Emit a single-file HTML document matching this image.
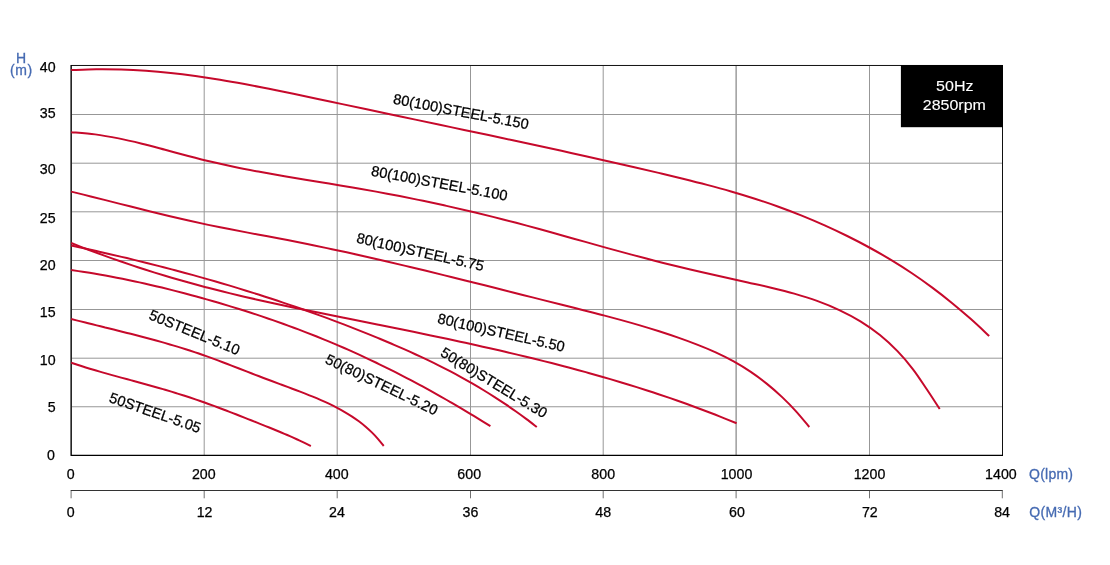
<!DOCTYPE html>
<html lang="en">
<head>
<meta charset="utf-8">
<title>Pump performance curves 50Hz 2850rpm</title>
<style>
html,body{margin:0;padding:0;background:#fff;}
body{width:1110px;height:565px;overflow:hidden;}
svg{display:block;}
svg text{font-family:"Liberation Sans",Arial,Helvetica,sans-serif;font-size:14.2px;stroke-width:0.25px;paint-order:stroke fill;}
.ax{fill:#000;stroke:#000;}
.bl text{fill:#456ab2;stroke:#456ab2;stroke-width:0.3px;font-size:14px;}
.cv{fill:none;stroke:#c6092b;stroke-width:2;stroke-linecap:butt;stroke-linejoin:round;}
.lb text{fill:#000;stroke:#000;}
</style>
</head>
<body>
<svg role="img" aria-label="Pump performance curves" width="1110" height="565" viewBox="0 0 1110 565">
<rect x="0" y="0" width="1110" height="565" fill="#fff"/>
<g fill="none">
<line x1="204.20" y1="66.0" x2="204.20" y2="455.0" stroke="#979797" stroke-width="1"/>
<line x1="337.20" y1="66.0" x2="337.20" y2="455.0" stroke="#979797" stroke-width="1"/>
<line x1="470.50" y1="66.0" x2="470.50" y2="455.0" stroke="#979797" stroke-width="1"/>
<line x1="603.20" y1="66.0" x2="603.20" y2="455.0" stroke="#979797" stroke-width="1"/>
<line x1="736.10" y1="66.0" x2="736.10" y2="455.0" stroke="#6c6c6c" stroke-width="1"/>
<line x1="869.50" y1="66.0" x2="869.50" y2="455.0" stroke="#979797" stroke-width="1"/>
<line x1="72.0" y1="114.50" x2="1002.0" y2="114.50" stroke="#979797" stroke-width="1"/>
<line x1="72.0" y1="163.20" x2="1002.0" y2="163.20" stroke="#979797" stroke-width="1"/>
<line x1="72.0" y1="211.80" x2="1002.0" y2="211.80" stroke="#979797" stroke-width="1"/>
<line x1="72.0" y1="260.50" x2="1002.0" y2="260.50" stroke="#979797" stroke-width="1"/>
<line x1="72.0" y1="309.50" x2="1002.0" y2="309.50" stroke="#979797" stroke-width="1"/>
<line x1="72.0" y1="358.20" x2="1002.0" y2="358.20" stroke="#979797" stroke-width="1"/>
<line x1="72.0" y1="406.75" x2="1002.0" y2="406.75" stroke="#979797" stroke-width="1"/>
</g>
<g fill="none" stroke="#000" stroke-linejoin="round">
<path d="M71 65.48H1002.5V455" stroke-width="1" stroke="#111"/>
<path d="M71.15 65V455.4H1003" stroke-width="1.4"/>
</g>
<g class="cv">
<path d="M71.20 70.10 C75.37 69.95 87.91 69.31 96.23 69.21 C104.56 69.10 112.86 69.22 121.16 69.48 C129.45 69.75 137.72 70.21 145.98 70.80 C154.24 71.40 162.48 72.16 170.72 73.04 C178.95 73.92 187.17 74.96 195.37 76.08 C203.58 77.21 211.78 78.47 219.96 79.79 C228.15 81.12 236.33 82.57 244.50 84.06 C252.67 85.55 260.83 87.13 268.98 88.75 C277.14 90.36 285.28 92.04 293.43 93.74 C301.57 95.43 309.71 97.17 317.85 98.91 C325.98 100.64 334.12 102.39 342.25 104.13 C350.38 105.87 358.51 107.60 366.64 109.32 C374.77 111.05 382.90 112.77 391.03 114.49 C399.15 116.21 407.28 117.92 415.40 119.63 C423.53 121.35 431.65 123.06 439.77 124.77 C447.89 126.49 456.01 128.20 464.13 129.92 C472.25 131.64 480.36 133.36 488.48 135.09 C496.59 136.82 504.71 138.55 512.82 140.29 C520.93 142.03 529.04 143.78 537.15 145.54 C545.26 147.30 553.37 149.06 561.47 150.84 C569.58 152.62 577.68 154.41 585.79 156.21 C593.89 158.02 601.99 159.84 610.09 161.67 C618.19 163.51 626.29 165.35 634.39 167.22 C642.48 169.09 650.58 170.97 658.67 172.89 C666.76 174.81 674.85 176.74 682.91 178.74 C690.98 180.74 699.04 182.76 707.06 184.89 C715.09 187.01 723.10 189.18 731.07 191.49 C739.04 193.80 746.99 196.19 754.89 198.73 C762.79 201.28 770.65 203.94 778.46 206.76 C786.27 209.58 794.03 212.54 801.74 215.64 C809.44 218.75 817.09 222.00 824.67 225.39 C832.26 228.79 839.78 232.33 847.22 236.01 C854.67 239.69 862.05 243.52 869.33 247.50 C876.62 251.48 883.84 255.60 890.94 259.89 C898.04 264.18 905.06 268.62 911.95 273.24 C918.84 277.85 925.62 282.65 932.28 287.59 C938.95 292.54 945.49 297.67 951.92 302.92 C958.35 308.16 964.67 313.58 970.88 319.09 C977.10 324.60 986.15 333.18 989.20 336.00"/>
<path d="M71.20 132.20 C75.18 132.56 87.18 133.34 95.08 134.37 C102.99 135.40 110.82 136.84 118.62 138.39 C126.43 139.95 134.18 141.82 141.92 143.71 C149.66 145.61 157.37 147.72 165.08 149.76 C172.80 151.81 180.49 153.98 188.22 155.99 C195.94 158.00 203.67 160.00 211.43 161.83 C219.19 163.66 226.98 165.36 234.78 166.98 C242.58 168.61 250.41 170.11 258.24 171.57 C266.08 173.03 273.93 174.40 281.78 175.75 C289.64 177.10 297.51 178.39 305.38 179.69 C313.24 180.99 321.12 182.25 328.99 183.54 C336.85 184.84 344.73 186.13 352.58 187.48 C360.44 188.83 368.30 190.20 376.14 191.64 C383.98 193.08 391.82 194.56 399.64 196.10 C407.47 197.63 415.28 199.21 423.08 200.85 C430.89 202.48 438.68 204.16 446.46 205.89 C454.24 207.62 462.01 209.40 469.77 211.24 C477.53 213.07 485.28 214.95 493.01 216.88 C500.74 218.81 508.47 220.80 516.17 222.83 C523.88 224.86 531.58 226.95 539.27 229.05 C546.96 231.15 554.64 233.30 562.32 235.44 C570.00 237.59 577.68 239.76 585.36 241.91 C593.04 244.06 600.71 246.22 608.40 248.35 C616.09 250.47 623.78 252.59 631.49 254.65 C639.19 256.71 646.91 258.75 654.64 260.72 C662.37 262.70 670.11 264.61 677.87 266.49 C685.62 268.37 693.39 270.20 701.16 272.00 C708.93 273.80 716.71 275.55 724.49 277.29 C732.27 279.03 740.06 280.69 747.83 282.42 C755.60 284.16 763.38 285.80 771.12 287.67 C778.85 289.54 786.58 291.42 794.24 293.63 C801.90 295.84 809.56 298.19 817.07 300.92 C824.58 303.66 832.08 306.64 839.31 310.04 C846.54 313.44 853.67 317.15 860.44 321.31 C867.21 325.47 873.76 330.05 879.93 335.01 C886.10 339.98 891.97 345.41 897.48 351.12 C902.99 356.82 908.15 362.95 913.01 369.27 C917.86 375.58 922.16 382.38 926.60 389.00 C931.05 395.62 937.52 405.67 939.70 409.00"/>
<path d="M71.20 191.60 C74.46 192.41 84.24 194.82 90.76 196.45 C97.27 198.08 103.78 199.74 110.29 201.39 C116.80 203.03 123.31 204.70 129.82 206.34 C136.33 207.99 142.84 209.63 149.36 211.24 C155.88 212.86 162.40 214.46 168.93 216.01 C175.46 217.57 182.00 219.10 188.55 220.58 C195.10 222.05 201.66 223.48 208.24 224.86 C214.81 226.24 221.40 227.55 227.99 228.84 C234.59 230.14 241.20 231.38 247.80 232.63 C254.40 233.88 261.02 235.09 267.62 236.34 C274.23 237.59 280.83 238.82 287.43 240.10 C294.02 241.38 300.61 242.68 307.20 244.02 C313.78 245.35 320.35 246.72 326.92 248.11 C333.49 249.49 340.05 250.91 346.61 252.35 C353.16 253.79 359.71 255.25 366.26 256.74 C372.80 258.22 379.34 259.72 385.88 261.24 C392.41 262.77 398.94 264.31 405.47 265.86 C412.00 267.42 418.53 268.99 425.05 270.57 C431.57 272.15 438.09 273.75 444.61 275.36 C451.13 276.96 457.64 278.58 464.16 280.20 C470.67 281.82 477.19 283.45 483.70 285.09 C490.21 286.72 496.73 288.36 503.24 290.00 C509.75 291.64 516.27 293.29 522.78 294.93 C529.30 296.57 535.81 298.21 542.33 299.85 C548.85 301.48 555.37 303.11 561.89 304.75 C568.41 306.38 574.94 308.01 581.46 309.66 C587.97 311.31 594.49 312.97 600.99 314.67 C607.49 316.38 613.99 318.10 620.46 319.89 C626.94 321.67 633.40 323.49 639.85 325.40 C646.29 327.30 652.71 329.25 659.11 331.29 C665.50 333.34 671.88 335.45 678.21 337.68 C684.55 339.90 690.88 342.19 697.13 344.65 C703.38 347.11 709.61 349.66 715.70 352.45 C721.79 355.25 727.81 358.20 733.66 361.44 C739.51 364.68 745.23 368.18 750.78 371.91 C756.33 375.65 761.73 379.66 766.96 383.86 C772.19 388.06 777.25 392.50 782.14 397.12 C787.02 401.73 791.74 406.57 796.27 411.55 C800.80 416.53 807.13 424.43 809.30 427.00"/>
<path d="M71.20 243.00 C73.95 244.07 82.20 247.35 87.72 249.45 C93.25 251.56 98.79 253.62 104.34 255.64 C109.89 257.65 115.46 259.63 121.04 261.55 C126.63 263.48 132.22 265.36 137.83 267.20 C143.44 269.04 149.06 270.84 154.70 272.59 C160.33 274.34 165.98 276.05 171.64 277.71 C177.30 279.38 182.97 281.00 188.65 282.58 C194.33 284.16 200.02 285.70 205.73 287.20 C211.43 288.69 217.14 290.14 222.86 291.56 C228.58 292.98 234.32 294.36 240.05 295.71 C245.79 297.06 251.54 298.38 257.29 299.67 C263.04 300.97 268.80 302.23 274.57 303.48 C280.33 304.73 286.10 305.95 291.88 307.16 C297.65 308.37 303.43 309.56 309.21 310.75 C315.00 311.94 320.78 313.11 326.57 314.28 C332.35 315.45 338.14 316.61 343.93 317.77 C349.72 318.94 355.51 320.10 361.30 321.27 C367.09 322.43 372.88 323.60 378.67 324.77 C384.46 325.94 390.25 327.11 396.04 328.29 C401.83 329.46 407.62 330.65 413.40 331.84 C419.19 333.03 424.97 334.23 430.76 335.44 C436.54 336.65 442.32 337.87 448.09 339.10 C453.87 340.34 459.64 341.58 465.41 342.84 C471.18 344.10 476.94 345.37 482.70 346.66 C488.46 347.95 494.22 349.25 499.97 350.58 C505.72 351.91 511.47 353.25 517.21 354.61 C522.95 355.98 528.68 357.36 534.41 358.77 C540.13 360.18 545.86 361.61 551.57 363.07 C557.28 364.53 562.99 366.01 568.69 367.52 C574.38 369.04 580.08 370.57 585.76 372.14 C591.44 373.71 597.11 375.31 602.78 376.94 C608.44 378.57 614.10 380.23 619.74 381.92 C625.39 383.62 631.02 385.35 636.65 387.11 C642.27 388.88 647.89 390.68 653.49 392.52 C659.09 394.37 664.68 396.24 670.26 398.17 C675.84 400.09 681.41 402.05 686.96 404.05 C692.52 406.05 698.06 408.10 703.59 410.19 C709.12 412.28 714.64 414.42 720.14 416.60 C725.64 418.79 733.86 422.18 736.60 423.30"/>
<path d="M71.20 245.60 C73.30 246.05 79.61 247.39 83.82 248.30 C88.02 249.21 92.22 250.13 96.42 251.07 C100.62 252.01 104.82 252.96 109.01 253.92 C113.20 254.88 117.39 255.86 121.58 256.85 C125.77 257.83 129.96 258.84 134.14 259.85 C138.32 260.86 142.50 261.89 146.68 262.93 C150.85 263.98 155.02 265.03 159.19 266.10 C163.36 267.17 167.53 268.25 171.69 269.35 C175.85 270.45 180.01 271.56 184.16 272.68 C188.32 273.81 192.47 274.95 196.62 276.10 C200.76 277.26 204.90 278.43 209.04 279.61 C213.18 280.80 217.31 281.99 221.44 283.21 C225.57 284.42 229.70 285.65 233.82 286.90 C237.94 288.14 242.05 289.40 246.16 290.68 C250.27 291.95 254.38 293.24 258.48 294.55 C262.58 295.86 266.68 297.18 270.77 298.52 C274.86 299.86 278.94 301.21 283.02 302.58 C287.10 303.95 291.17 305.34 295.24 306.74 C299.31 308.15 303.37 309.57 307.43 311.01 C311.48 312.44 315.53 313.90 319.58 315.37 C323.62 316.84 327.66 318.33 331.69 319.84 C335.72 321.34 339.74 322.87 343.76 324.41 C347.78 325.95 351.79 327.51 355.80 329.08 C359.80 330.66 363.80 332.25 367.79 333.87 C371.78 335.48 375.77 337.11 379.75 338.76 C383.72 340.41 387.69 342.08 391.65 343.77 C395.61 345.46 399.56 347.18 403.49 348.92 C407.43 350.66 411.35 352.42 415.26 354.22 C419.17 356.01 423.07 357.84 426.95 359.69 C430.82 361.55 434.69 363.43 438.53 365.36 C442.38 367.28 446.21 369.23 450.01 371.22 C453.82 373.22 457.61 375.25 461.37 377.32 C465.13 379.39 468.88 381.50 472.60 383.66 C476.31 385.81 480.01 388.01 483.68 390.25 C487.35 392.48 491.00 394.77 494.62 397.09 C498.24 399.41 501.83 401.78 505.40 404.19 C508.97 406.60 512.51 409.05 516.03 411.54 C519.55 414.03 523.04 416.57 526.50 419.15 C529.96 421.72 535.08 425.69 536.80 427.00"/>
<path d="M71.20 270.10 C73.11 270.37 78.83 271.17 82.63 271.74 C86.44 272.32 90.24 272.93 94.04 273.56 C97.84 274.19 101.63 274.85 105.42 275.54 C109.20 276.23 112.99 276.94 116.76 277.67 C120.54 278.41 124.32 279.17 128.09 279.96 C131.86 280.74 135.62 281.55 139.38 282.37 C143.14 283.20 146.90 284.05 150.65 284.92 C154.40 285.79 158.15 286.68 161.89 287.59 C165.64 288.50 169.38 289.43 173.11 290.37 C176.85 291.32 180.58 292.28 184.30 293.26 C188.03 294.25 191.75 295.25 195.47 296.26 C199.19 297.28 202.90 298.31 206.61 299.36 C210.32 300.41 214.02 301.48 217.72 302.56 C221.42 303.64 225.12 304.74 228.80 305.86 C232.49 306.98 236.18 308.11 239.85 309.27 C243.53 310.42 247.20 311.59 250.87 312.78 C254.53 313.97 258.19 315.17 261.84 316.40 C265.50 317.63 269.14 318.87 272.78 320.14 C276.42 321.40 280.05 322.69 283.68 323.99 C287.30 325.29 290.92 326.62 294.52 327.96 C298.13 329.31 301.73 330.67 305.33 332.06 C308.92 333.44 312.50 334.85 316.08 336.27 C319.65 337.70 323.22 339.15 326.78 340.62 C330.33 342.09 333.88 343.58 337.42 345.09 C340.96 346.61 344.49 348.14 348.01 349.70 C351.53 351.26 355.04 352.84 358.54 354.44 C362.04 356.04 365.53 357.66 369.01 359.30 C372.50 360.94 375.97 362.60 379.43 364.29 C382.90 365.97 386.35 367.67 389.79 369.39 C393.24 371.11 396.67 372.85 400.10 374.61 C403.53 376.37 406.94 378.15 410.35 379.94 C413.76 381.74 417.16 383.55 420.55 385.38 C423.94 387.21 427.32 389.06 430.69 390.92 C434.06 392.79 437.42 394.67 440.77 396.57 C444.13 398.47 447.47 400.38 450.81 402.31 C454.14 404.25 457.47 406.19 460.79 408.15 C464.10 410.11 467.41 412.09 470.71 414.08 C474.01 416.07 477.30 418.08 480.58 420.10 C483.86 422.12 488.76 425.18 490.40 426.20"/>
<path d="M71.20 319.00 C72.61 319.36 76.85 320.44 79.68 321.15 C82.51 321.87 85.34 322.57 88.17 323.28 C91.01 323.98 93.84 324.68 96.68 325.38 C99.51 326.08 102.35 326.78 105.18 327.47 C108.02 328.17 110.86 328.87 113.69 329.57 C116.53 330.27 119.36 330.98 122.20 331.69 C125.03 332.40 127.87 333.11 130.70 333.83 C133.53 334.55 136.36 335.27 139.19 336.01 C142.02 336.74 144.84 337.48 147.67 338.24 C150.49 338.99 153.31 339.75 156.13 340.53 C158.94 341.30 161.76 342.09 164.57 342.89 C167.38 343.70 170.18 344.51 172.98 345.34 C175.78 346.18 178.57 347.02 181.36 347.89 C184.15 348.76 186.93 349.64 189.71 350.54 C192.48 351.44 195.25 352.36 198.01 353.30 C200.77 354.24 203.53 355.21 206.28 356.18 C209.02 357.16 211.76 358.15 214.50 359.16 C217.24 360.16 219.97 361.18 222.70 362.21 C225.42 363.24 228.15 364.28 230.87 365.32 C233.59 366.37 236.31 367.42 239.03 368.48 C241.75 369.53 244.47 370.59 247.19 371.65 C249.91 372.70 252.63 373.76 255.35 374.81 C258.07 375.87 260.79 376.92 263.52 377.96 C266.25 379.00 268.98 380.04 271.71 381.06 C274.45 382.09 277.19 383.11 279.93 384.13 C282.67 385.15 285.41 386.16 288.16 387.18 C290.90 388.21 293.65 389.23 296.39 390.26 C299.13 391.30 301.88 392.34 304.61 393.40 C307.34 394.47 310.07 395.54 312.79 396.65 C315.50 397.76 318.21 398.89 320.89 400.06 C323.57 401.23 326.23 402.43 328.87 403.68 C331.50 404.93 334.12 406.22 336.69 407.57 C339.27 408.92 341.82 410.31 344.32 411.77 C346.83 413.23 349.30 414.74 351.72 416.33 C354.14 417.92 356.52 419.58 358.84 421.31 C361.17 423.05 363.44 424.85 365.65 426.74 C367.86 428.63 370.01 430.59 372.09 432.65 C374.17 434.70 376.19 436.83 378.12 439.06 C380.06 441.28 382.77 444.84 383.70 446.00"/>
<path d="M71.20 362.70 C72.23 363.05 75.31 364.10 77.38 364.78 C79.44 365.46 81.51 366.13 83.58 366.78 C85.65 367.44 87.73 368.08 89.80 368.71 C91.88 369.34 93.96 369.96 96.05 370.57 C98.13 371.19 100.22 371.79 102.31 372.38 C104.40 372.98 106.49 373.57 108.58 374.15 C110.68 374.74 112.77 375.31 114.87 375.89 C116.96 376.46 119.06 377.03 121.16 377.60 C123.26 378.17 125.36 378.74 127.45 379.30 C129.55 379.87 131.65 380.43 133.75 381.00 C135.85 381.57 137.95 382.13 140.04 382.71 C142.14 383.28 144.24 383.85 146.33 384.43 C148.43 385.00 150.52 385.59 152.61 386.17 C154.70 386.76 156.79 387.36 158.88 387.96 C160.96 388.56 163.05 389.17 165.13 389.79 C167.21 390.40 169.29 391.03 171.37 391.66 C173.45 392.29 175.52 392.93 177.59 393.58 C179.66 394.23 181.73 394.89 183.80 395.55 C185.87 396.22 187.93 396.89 189.99 397.57 C192.05 398.26 194.11 398.95 196.16 399.64 C198.22 400.34 200.27 401.05 202.32 401.77 C204.37 402.49 206.41 403.21 208.46 403.95 C210.50 404.68 212.54 405.42 214.58 406.18 C216.62 406.93 218.65 407.68 220.69 408.45 C222.72 409.21 224.75 409.98 226.78 410.76 C228.81 411.53 230.84 412.32 232.86 413.10 C234.89 413.89 236.91 414.68 238.94 415.47 C240.96 416.27 242.98 417.07 245.00 417.86 C247.02 418.66 249.04 419.47 251.06 420.27 C253.08 421.07 255.10 421.88 257.12 422.69 C259.14 423.49 261.15 424.30 263.17 425.11 C265.19 425.91 267.21 426.72 269.22 427.54 C271.23 428.35 273.25 429.17 275.26 430.00 C277.26 430.82 279.27 431.65 281.27 432.49 C283.28 433.33 285.27 434.18 287.27 435.04 C289.26 435.90 291.25 436.77 293.23 437.65 C295.22 438.54 297.19 439.43 299.16 440.34 C301.14 441.25 303.10 442.18 305.06 443.12 C307.01 444.06 309.93 445.52 310.90 446.00"/>
</g>
<rect x="900.9" y="65" width="102.1" height="62.2" fill="#000"/>
<text transform="translate(954.8 91.2) scale(1.13 1)" text-anchor="middle" fill="#fff" style="stroke:#fff;stroke-width:0.1px">50Hz</text>
<text transform="translate(954.3 110.1) scale(1.125 1)" text-anchor="middle" fill="#fff" style="stroke:#fff;stroke-width:0.1px">2850rpm</text>
<g class="lb">
<text transform="translate(392.60 103.52) rotate(10.80)" style="font-size:14.55px">80(100)STEEL-5.150</text>
<text transform="translate(370.41 175.53) rotate(10.44)" style="font-size:14.66px">80(100)STEEL-5.100</text>
<text transform="translate(355.71 242.55) rotate(12.63)" style="font-size:14.65px">80(100)STEEL-5.75</text>
<text transform="translate(436.70 323.00) rotate(12.78)" style="font-size:14.63px">80(100)STEEL-5.50</text>
<text transform="translate(439.50 355.37) rotate(31.33)" style="font-size:14.59px">50(80)STEEL-5.30</text>
<text transform="translate(324.37 362.63) rotate(25.61)" style="font-size:14.70px">50(80)STEEL-5.20</text>
<text transform="translate(148.04 318.83) rotate(22.20)" style="font-size:14.72px">50STEEL-5.10</text>
<text transform="translate(108.30 401.78) rotate(19.08)" style="font-size:14.60px">50STEEL-5.05</text>
</g>
<g class="ax" text-anchor="end">
<text x="55.6" y="72.1">40</text>
<text x="55.6" y="118.1">35</text>
<text x="55.6" y="174.2">30</text>
<text x="55.6" y="222.9">25</text>
<text x="55.6" y="270.0">20</text>
<text x="55.6" y="317.0">15</text>
<text x="55.6" y="365.0">10</text>
<text x="55.6" y="412.0">5</text>
<text x="54.8" y="459.6">0</text>
</g>
<g class="bl" text-anchor="middle">
<text x="21.0" y="62.9">H</text>
<text x="21.45" y="74.9" letter-spacing="0.7">(m)</text>
</g>
<g class="ax" text-anchor="middle">
<text x="70.8" y="479.1">0</text>
<text x="203.8" y="479.1">200</text>
<text x="336.8" y="479.1">400</text>
<text x="469.2" y="479.1">600</text>
<text x="603.2" y="479.1">800</text>
<text x="736.5" y="479.1">1000</text>
<text x="869.5" y="479.1">1200</text>
<text x="1000.9" y="479.1">1400</text>
<text x="70.8" y="517.1">0</text>
<text x="204.6" y="517.1">12</text>
<text x="336.9" y="517.1">24</text>
<text x="470.5" y="517.1">36</text>
<text x="603.2" y="517.1">48</text>
<text x="736.9" y="517.1">60</text>
<text x="869.8" y="517.1">72</text>
<text x="1002.1" y="517.1">84</text>
</g>
<g class="bl">
<text x="1029" y="479.0" letter-spacing="0.25">Q(lpm)</text>
<text x="1029.3" y="517.1" textLength="52.5" lengthAdjust="spacing">Q(M³/H)</text>
</g>
<g fill="none">
<line x1="70.6" y1="490.5" x2="1002.8" y2="490.5" stroke="#333" stroke-width="1"/>
<line x1="71.10" y1="491" x2="71.10" y2="498.3" stroke="#707070" stroke-width="1"/>
<line x1="204.20" y1="491" x2="204.20" y2="498.3" stroke="#707070" stroke-width="1"/>
<line x1="337.20" y1="491" x2="337.20" y2="498.3" stroke="#707070" stroke-width="1"/>
<line x1="470.50" y1="491" x2="470.50" y2="498.3" stroke="#707070" stroke-width="1"/>
<line x1="603.20" y1="491" x2="603.20" y2="498.3" stroke="#707070" stroke-width="1"/>
<line x1="736.10" y1="491" x2="736.10" y2="498.3" stroke="#707070" stroke-width="1"/>
<line x1="869.50" y1="491" x2="869.50" y2="498.3" stroke="#707070" stroke-width="1"/>
<line x1="1002.30" y1="491" x2="1002.30" y2="498.3" stroke="#707070" stroke-width="1"/>
</g>
</svg>
</body>
</html>
